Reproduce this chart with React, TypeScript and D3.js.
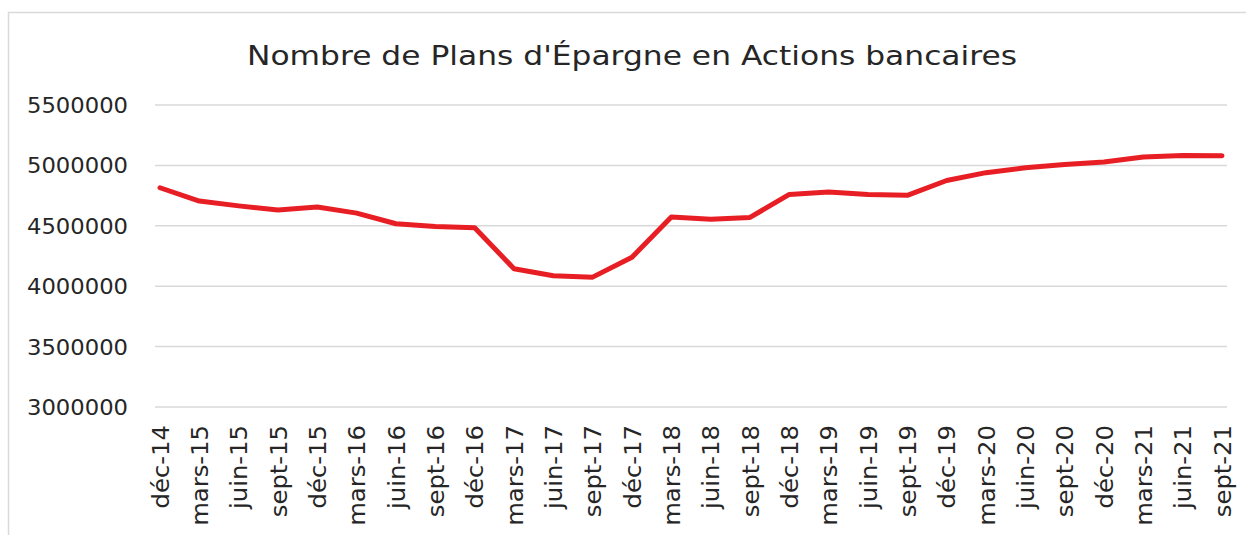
import React from 'react';
import * as d3 from 'd3';

const categories = [
  'déc-14', 'mars-15', 'juin-15', 'sept-15', 'déc-15', 'mars-16', 'juin-16', 'sept-16',
  'déc-16', 'mars-17', 'juin-17', 'sept-17', 'déc-17', 'mars-18', 'juin-18', 'sept-18',
  'déc-18', 'mars-19', 'juin-19', 'sept-19', 'déc-19', 'mars-20', 'juin-20', 'sept-20',
  'déc-20', 'mars-21', 'juin-21', 'sept-21',
];

const plans = [
  4815000, 4705000, 4665000, 4630000, 4655000, 4605000, 4517000, 4495000,
  4484000, 4145000, 4086000, 4075000, 4240000, 4572000, 4555000, 4569000,
  4760000, 4779000, 4760000, 4752000, 4875000, 4940000, 4980000, 5008000,
  5028000, 5070000, 5082000, 5080000,
];

const yTicks = [3000000, 3500000, 4000000, 4500000, 5000000, 5500000];

const title = "Nombre de Plans d'Épargne en Actions bancaires";

const font = '"DejaVu Sans", sans-serif';

export default function App() {
  const width = 1246;
  const height = 535;

  const x = d3.scalePoint<string>().domain(categories).range([160, 1222]);
  const y = d3.scaleLinear().domain([3000000, 5500000]).range([407, 105]);

  const line = d3
    .line<number>()
    .x((_, i) => x(categories[i]) as number)
    .y((d) => y(d));

  return (
    <svg
      width={width}
      height={height}
      style={{ position: 'absolute', left: 0, top: 0, background: '#fff' }}
    >
      <rect x={8.5} y={12.5} width={1250} height={540} fill="#fff" stroke="#d9d9d9" strokeWidth={1.5} />
      <text
        x={247}
        y={65}
        fontFamily={font}
        fontSize={27}
        textLength={770}
        lengthAdjust="spacingAndGlyphs"
        fill="#262626"
      >
        {title}
      </text>
      {yTicks.map((t) => (
        <g key={t}>
          <line x1={155} x2={1227} y1={y(t)} y2={y(t)} stroke="#d9d9d9" strokeWidth={1.5} />
          <text
            x={27}
            y={y(t) + 8}
            fontFamily={font}
            fontSize={21.5}
            textLength={101}
            lengthAdjust="spacingAndGlyphs"
            fill="#262626"
          >
            {t}
          </text>
        </g>
      ))}
      {categories.map((c) => (
        <text
          key={c}
          transform={`translate(${(x(c) as number) + 8.5},425) rotate(-90) scale(1.08,1)`}
          textAnchor="end"
          fontFamily={font}
          fontSize={22.5}
          fill="#262626"
        >
          {c}
        </text>
      ))}
      <path
        d={line(plans) || ''}
        fill="none"
        stroke="#e81e25"
        strokeWidth={5}
        strokeLinejoin="round"
        strokeLinecap="round"
      />
    </svg>
  );
}
